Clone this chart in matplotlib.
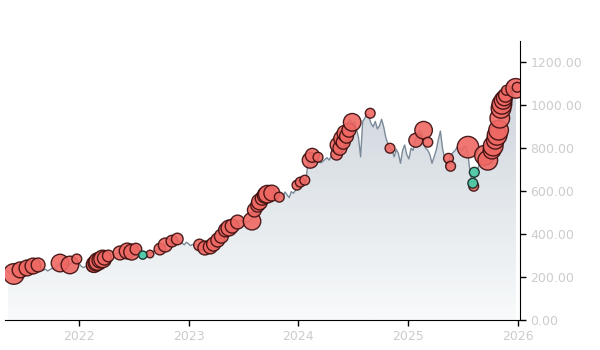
import matplotlib
matplotlib.use('Agg')
import matplotlib.pyplot as plt
import matplotlib.dates as mdates
from matplotlib.colors import LinearSegmentedColormap
import numpy as np
import pandas as pd

# weekly closing price, one row per quarter (13 weeks)
price = [
    228, 218, 212, 220, 230, 236, 233, 240, 244, 242, 248, 251, 255,
    256, 252, 244, 238, 232, 236, 228, 234, 240, 238, 246, 258, 265,
    268, 262, 255, 258, 262, 272, 284, 276, 262, 250, 244, 248, 252,
    251, 258, 265, 272, 279, 284, 288, 294, 298, 302, 296, 304, 308,
    310, 312, 318, 322, 321, 316, 318, 326, 330, 322, 314, 306, 302,
    300, 304, 307, 312, 318, 322, 330, 326, 338, 349, 352, 358, 362,
    367, 372, 377, 370, 364, 358, 350, 362, 355, 346, 352, 348, 350,
    349, 342, 335, 338, 340, 346, 353, 362, 372, 382, 390, 405, 419,
    425, 432, 437, 445, 456, 452, 460, 466, 458, 452, 456, 460, 470,
    512, 525, 540, 567, 575, 581, 586, 591, 588, 578, 572, 566, 580,
    588, 575, 596, 582, 570, 598, 590, 604, 628, 636, 642, 648, 651,
    744, 767, 770, 758, 752, 740, 732, 738, 748, 756, 745, 762, 770,
    772, 790, 812, 835, 856, 884, 921, 935, 912, 925, 890, 850, 760,
    925, 940, 963, 945, 915, 900, 925, 890, 905, 935, 900, 850, 820,
    800, 790, 760, 795, 775, 730, 790, 815, 770, 750, 800, 790, 837,
    860, 884, 870, 828, 800, 790, 770, 730, 760, 790, 840, 880, 800,
    753, 716, 740, 770, 780, 790, 805, 798, 790, 805, 810, 780, 700,
    637, 650, 688, 710, 740, 767, 760, 744, 770, 791, 837, 860, 884,
    940, 1000, 1035, 1070, 1107, 1085, 1060, 1075, 1084,
]
dates = pd.date_range('2021-05-08', periods=len(price), freq='7D')

# sell markers: date, price, size
sell_dates = [
    '2021-05-28', '2021-06-18', '2021-07-11', '2021-07-31', '2021-08-17',
    '2021-10-29', '2021-12-01', '2021-12-24', '2022-02-14', '2022-02-20',
    '2022-02-26', '2022-03-04', '2022-03-11', '2022-03-20', '2022-03-26',
    '2022-04-08', '2022-05-17', '2022-06-10', '2022-06-25', '2022-07-09',
    '2022-08-25', '2022-09-27', '2022-10-15', '2022-11-06', '2022-11-24',
    '2023-02-06', '2023-02-24', '2023-03-14', '2023-03-25', '2023-04-08',
    '2023-04-20', '2023-05-04', '2023-05-15', '2023-05-26', '2023-06-13',
    '2023-07-31', '2023-08-08', '2023-08-19', '2023-08-25', '2023-09-03',
    '2023-09-13', '2023-09-20', '2023-10-05', '2023-10-30', '2023-12-28',
    '2024-01-08', '2024-01-23', '2024-02-10', '2024-02-17', '2024-03-07',
    '2024-05-08', '2024-05-13', '2024-05-19', '2024-05-25', '2024-05-30',
    '2024-06-05', '2024-06-10', '2024-06-18', '2024-06-29', '2024-08-28',
    '2024-11-02', '2025-01-27', '2025-02-22', '2025-03-08', '2025-05-16',
    '2025-05-23', '2025-07-20', '2025-08-08', '2025-09-13', '2025-09-24',
    '2025-10-08', '2025-10-12', '2025-10-19', '2025-10-25', '2025-10-30',
    '2025-11-03', '2025-11-07', '2025-11-10', '2025-11-14', '2025-11-18',
    '2025-11-22', '2025-11-25', '2025-12-26', '2025-12-31',
]
sell_price = [
    214, 233, 242, 251, 256, 265, 256, 284, 251, 258,
    265, 272, 279, 284, 288, 298, 312, 321, 316, 330,
    307, 330, 349, 367, 377, 349, 335, 340, 353, 372,
    390, 419, 428, 437, 456, 460, 512, 535, 550, 567,
    581, 586, 591, 572, 628, 642, 651, 744, 767, 758,
    772, 815, 800, 845, 828, 870, 856, 884, 921, 963,
    800, 837, 884, 828, 753, 716, 805, 623, 767, 744,
    791, 810, 837, 860, 884, 940, 986, 1005, 1023, 1035,
    1047, 1070, 1079, 1084,
]
sell_size = [
    220, 130, 130, 130, 100, 160, 160, 50, 70, 130,
    130, 160, 130, 160, 100, 70, 100, 130, 130, 70,
    30, 70, 100, 70, 70, 70, 100, 100, 100, 100,
    100, 100, 130, 100, 100, 160, 100, 100, 130, 100,
    130, 160, 130, 50, 50, 50, 50, 130, 100, 50,
    70, 130, 100, 130, 100, 130, 100, 100, 160, 50,
    50, 100, 160, 50, 50, 50, 240, 50, 200, 200,
    160, 200, 160, 200, 200, 200, 200, 200, 160, 130,
    100, 50, 200, 50,
]
buy_dates = ['2022-08-01', '2025-08-10', '2025-08-05']
buy_price = [302, 688, 637]
buy_size = [35, 50, 50]

fig = plt.figure(figsize=(6, 3.5), dpi=100)
ax = fig.add_axes([0.008, 0.086, 0.859, 0.797])

x = mdates.date2num(dates)
y = np.array(price, dtype=float)

# gradient fill under the price line
ymax = 1300
cmap = LinearSegmentedColormap.from_list('fade', ['#f8fafb', '#c6ced6'])
grad = np.linspace(0, 1, 256).reshape(-1, 1)
img = ax.imshow(grad, cmap=cmap, aspect='auto', origin='lower',
                extent=[x[0], x[-1], 0, ymax], zorder=1)
poly = ax.fill_between(x, y, 0, color='none', zorder=1)
img.set_clip_path(poly.get_paths()[0], transform=ax.transData)

ax.plot(x, y, color='#7b8a99', lw=1.0, zorder=2)

ax.scatter(mdates.datestr2num(sell_dates), sell_price, s=sell_size,
           color='#ef6863', edgecolor='#3a0d0d', linewidth=1.0, alpha=0.9, zorder=3)
ax.scatter(mdates.datestr2num(buy_dates), buy_price, s=buy_size,
           color='#4ecaa8', edgecolor='#1a2e2a', linewidth=1.0, alpha=0.95, zorder=4)

ax.set_xlim(mdates.datestr2num('2021-04-28'), mdates.datestr2num('2026-01-10'))
ax.set_ylim(0, ymax)
ax.set_yticks(range(0, 1201, 200))
ax.yaxis.set_major_formatter(plt.FormatStrFormatter('%.2f'))
ax.xaxis.set_major_locator(mdates.YearLocator())
ax.xaxis.set_major_formatter(mdates.DateFormatter('%Y'))

ax.yaxis.tick_right()
ax.spines['top'].set_visible(False)
ax.spines['left'].set_visible(False)
ax.tick_params(axis='both', colors='black', labelcolor='#cccccc',
               labelsize=9, length=4, width=1, direction='out')

fig.savefig('out.png', dpi=100)
